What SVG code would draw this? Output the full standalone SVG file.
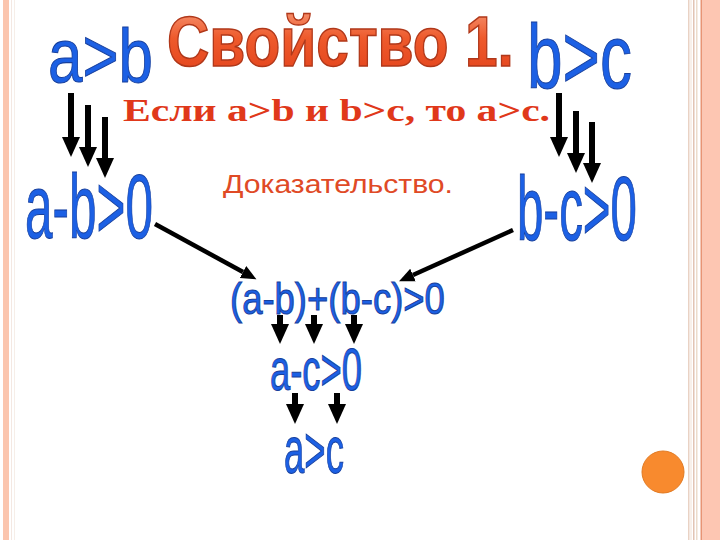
<svg xmlns="http://www.w3.org/2000/svg" width="720" height="540" viewBox="0 0 720 540">
  <style>
    .blue { font-family: "Liberation Sans", Arial, sans-serif; fill: #1c60e4; stroke: #173f9c; stroke-width: 1; }
    .title { font-family: "Liberation Sans", Arial, sans-serif; font-weight: bold; fill: url(#tg); stroke: #b0381a; stroke-width: 1.5; }
    .sub { font-family: "Liberation Serif", "Times New Roman", serif; font-weight: bold; fill: #e0381a; }
    .proof { font-family: "Liberation Sans", Arial, sans-serif; fill: #e04a26; }
    .thick { stroke: #000; stroke-width: 6; fill: none; }
    .diag { stroke: #000; stroke-width: 4.5; fill: none; }
  </style>
  <defs>
    <linearGradient id="tg" x1="0" y1="0" x2="0" y2="1">
      <stop offset="0" stop-color="#f7a080"/>
      <stop offset="0.45" stop-color="#ee5a2c"/>
      <stop offset="1" stop-color="#e2401a"/>
    </linearGradient>
    <marker id="hd" viewBox="0 -10 20 20" refX="0" refY="0" markerWidth="20" markerHeight="20" markerUnits="userSpaceOnUse" orient="auto">
      <path d="M0,-9 L20,0 L0,9 z" fill="#000"/>
    </marker>
    <marker id="hs" viewBox="0 -10 20 20" refX="0" refY="0" markerWidth="17" markerHeight="17" markerUnits="userSpaceOnUse" orient="auto">
      <path d="M0,-8 L18,0 L0,8 z" fill="#000"/>
    </marker>
  </defs>
  <rect width="720" height="540" fill="#fff"/>

  <g id="border">
    <rect x="3" y="0" width="6" height="540" fill="#fbc5ae"/>
    <rect x="11" y="0" width="1" height="540" fill="#f4e8e2"/>
    <rect x="14" y="0" width="1" height="540" fill="#f6eee8"/>
    <rect x="688" y="0" width="1.5" height="540" fill="#e9d2c4"/>
    <rect x="690.5" y="0" width="1" height="540" fill="#f2e2d6"/>
    <rect x="693" y="0" width="1.5" height="540" fill="#e2c4b4"/>
    <rect x="696" y="0" width="1.5" height="540" fill="#ecdccc"/>
    <rect x="700.5" y="0" width="2" height="540" fill="#e89474"/>
    <rect x="702.5" y="0" width="17.5" height="540" fill="#fdc6b2"/>
    <circle cx="663" cy="472" r="21" fill="#f88a2e" stroke="#e27a22" stroke-width="1"/>
  </g>

  <g id="title">
    <text class="title" transform="translate(167,66) scale(0.85,1)" font-size="70" textLength="408" lengthAdjust="spacingAndGlyphs">Свойство 1.</text>
  </g>
  <g id="statement">
    <text class="sub" x="123" y="121" font-size="32" textLength="427" lengthAdjust="spacingAndGlyphs">Если a&gt;b и b&gt;c, то a&gt;c.</text>
  </g>
  <g id="proof">
    <text class="proof" x="223" y="193" font-size="26" textLength="230" lengthAdjust="spacingAndGlyphs">Доказательство.</text>
  </g>

  <g id="n-agtb"><text class="blue" transform="translate(48,82) scale(0.815,1)" font-size="76">a&gt;b</text></g>
  <g id="n-bgtc"><text class="blue" transform="translate(527,88) scale(0.711,1)" font-size="90">b&gt;c</text></g>
  <g id="n-ab0"><text class="blue" transform="translate(25,238) scale(0.55,1)" font-size="90">a-b&gt;0</text></g>
  <g id="n-bc0"><text class="blue" transform="translate(517,240) scale(0.527,1)" font-size="90">b-c&gt;0</text></g>
  <g id="n-sum"><text class="blue" transform="translate(230,314) scale(0.811,1)" font-size="45">(a-b)+(b-c)&gt;0</text></g>
  <g id="n-ac0"><text class="blue" transform="translate(270,390) scale(0.617,1)" font-size="59">a-c&gt;0</text></g>
  <g id="n-agtc"><text class="blue" transform="translate(284,473) scale(0.554,1)" font-size="66">a&gt;c</text></g>

  <g id="connectors">
    <line class="thick" x1="71" y1="93" x2="71" y2="137" marker-end="url(#hd)"/>
    <line class="thick" x1="88" y1="105" x2="88" y2="147" marker-end="url(#hd)"/>
    <line class="thick" x1="105" y1="117" x2="105" y2="158" marker-end="url(#hd)"/>
    <line class="thick" x1="559" y1="93" x2="559" y2="137" marker-end="url(#hd)"/>
    <line class="thick" x1="576" y1="111" x2="576" y2="153" marker-end="url(#hd)"/>
    <line class="thick" x1="592" y1="122" x2="592" y2="163" marker-end="url(#hd)"/>
    <line class="diag" x1="155" y1="224" x2="243" y2="272" marker-end="url(#hs)"/>
    <line class="diag" x1="513" y1="230" x2="413" y2="275" marker-end="url(#hs)"/>
    <line class="thick" x1="280" y1="315" x2="280" y2="324" marker-end="url(#hd)"/>
    <line class="thick" x1="314" y1="315" x2="314" y2="324" marker-end="url(#hd)"/>
    <line class="thick" x1="354" y1="315" x2="354" y2="324" marker-end="url(#hd)"/>
    <line class="thick" x1="295" y1="393" x2="295" y2="404" marker-end="url(#hd)"/>
    <line class="thick" x1="337" y1="393" x2="337" y2="404" marker-end="url(#hd)"/>
  </g>
</svg>
